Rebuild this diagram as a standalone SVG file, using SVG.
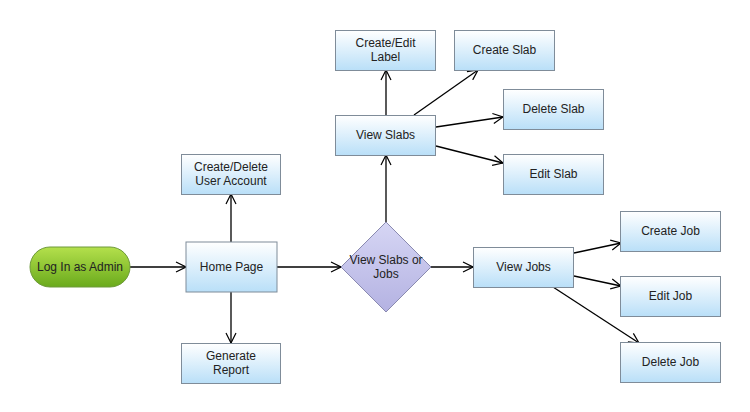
<svg xmlns="http://www.w3.org/2000/svg" width="750" height="412" viewBox="0 0 750 412">
<defs>
<linearGradient id="gBox" x1="0" y1="0" x2="0" y2="1">
<stop offset="0" stop-color="#ffffff"/>
<stop offset="1" stop-color="#b9dff8"/>
</linearGradient>
<linearGradient id="gPill" x1="0" y1="0" x2="0" y2="1">
<stop offset="0" stop-color="#b4e04c"/>
<stop offset="1" stop-color="#6aaa1c"/>
</linearGradient>
<linearGradient id="gDia" x1="0" y1="0" x2="0" y2="1">
<stop offset="0" stop-color="#d6d6f4"/>
<stop offset="1" stop-color="#b4b2e2"/>
</linearGradient>
<marker id="arr" viewBox="0 0 12 12" refX="11" refY="6" markerWidth="12" markerHeight="12" markerUnits="userSpaceOnUse" orient="auto">
<path d="M1,1 L11,6 L1,11" fill="none" stroke="#000" stroke-width="1.2"/>
</marker>
<style>
.box{fill:url(#gBox);stroke:#7f8c99;stroke-width:1}
.pill{fill:url(#gPill);stroke:#6e9a3a;stroke-width:1}
.dia{fill:url(#gDia);stroke:#8a8ab0;stroke-width:1}
.t{font-family:"Liberation Sans",Arial,sans-serif;font-size:12px;fill:#222;text-anchor:middle}
.c{fill:none;stroke:#000;stroke-width:1.3;marker-end:url(#arr)}
</style>
</defs>
<rect width="750" height="412" fill="#ffffff"/>
<g id="connectors">
<line class="c" x1="130" y1="267" x2="186" y2="267"/>
<line class="c" x1="231" y1="242" x2="231" y2="194"/>
<line class="c" x1="231" y1="292" x2="231" y2="343"/>
<line class="c" x1="277" y1="267" x2="341" y2="267"/>
<line class="c" x1="430" y1="267" x2="473" y2="267"/>
<line class="c" x1="386" y1="222" x2="386" y2="155"/>
<line class="c" x1="386" y1="116" x2="386" y2="70"/>
<line class="c" x1="414" y1="115" x2="478" y2="70"/>
<line class="c" x1="436" y1="127" x2="503" y2="117"/>
<line class="c" x1="436" y1="146" x2="503" y2="163"/>
<line class="c" x1="574" y1="253" x2="621" y2="243"/>
<line class="c" x1="574" y1="276" x2="621" y2="286"/>
<line class="c" x1="553" y1="287" x2="639" y2="343"/>
</g>
<g id="login">
<rect class="pill" x="30" y="247" width="100" height="40" rx="20" ry="20"/>
<text class="t" x="80" y="271">Log In as Admin</text>
</g>
<g id="home">
<rect class="box" x="186" y="242" width="91" height="50"/>
<text class="t" x="231.5" y="271">Home Page</text>
</g>
<g id="user-account">
<rect class="box" x="181.5" y="154.5" width="99" height="40"/>
<text class="t" x="231" y="171">Create/Delete</text>
<text class="t" x="231" y="185">User Account</text>
</g>
<g id="report">
<rect class="box" x="181.5" y="343.5" width="99" height="40"/>
<text class="t" x="231" y="360">Generate</text>
<text class="t" x="231" y="374">Report</text>
</g>
<g id="decision">
<polygon class="dia" points="386,222 431,267 386,312 341,267"/>
<text class="t" x="386" y="264">View Slabs or</text>
<text class="t" x="386" y="278">Jobs</text>
</g>
<g id="view-jobs">
<rect class="box" x="473.5" y="247.5" width="100" height="40"/>
<text class="t" x="523.5" y="271">View Jobs</text>
</g>
<g id="view-slabs">
<rect class="box" x="335.5" y="115.5" width="100" height="40"/>
<text class="t" x="385.5" y="139">View Slabs</text>
</g>
<g id="label">
<rect class="box" x="335.5" y="30.5" width="100" height="40"/>
<text class="t" x="385.5" y="47">Create/Edit</text>
<text class="t" x="385.5" y="61">Label</text>
</g>
<g id="create-slab">
<rect class="box" x="454.5" y="30.5" width="100" height="40"/>
<text class="t" x="504.5" y="54">Create Slab</text>
</g>
<g id="delete-slab">
<rect class="box" x="503.5" y="89.5" width="100" height="40"/>
<text class="t" x="553.5" y="113">Delete Slab</text>
</g>
<g id="edit-slab">
<rect class="box" x="503.5" y="154.5" width="100" height="40"/>
<text class="t" x="553.5" y="178">Edit Slab</text>
</g>
<g id="create-job">
<rect class="box" x="620.5" y="211.5" width="100" height="40"/>
<text class="t" x="670.5" y="235">Create Job</text>
</g>
<g id="edit-job">
<rect class="box" x="620.5" y="276.5" width="100" height="40"/>
<text class="t" x="670.5" y="300">Edit Job</text>
</g>
<g id="delete-job">
<rect class="box" x="620.5" y="342.5" width="100" height="40"/>
<text class="t" x="670.5" y="366">Delete Job</text>
</g>
</svg>
